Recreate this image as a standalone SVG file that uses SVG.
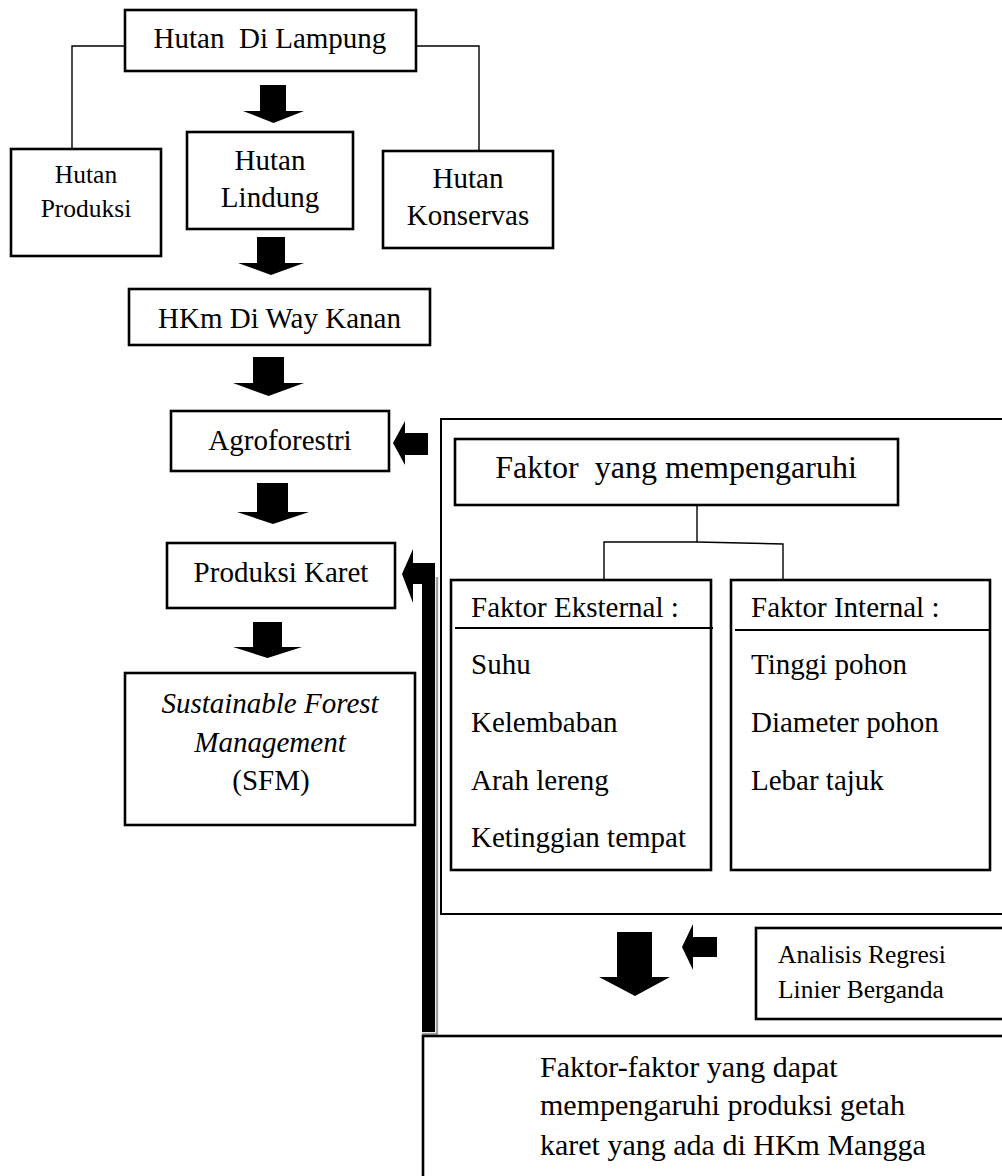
<svg xmlns="http://www.w3.org/2000/svg" width="1002" height="1176" viewBox="0 0 1002 1176">
<style>
.box{fill:#fff;stroke:#000;stroke-width:2.6}
.ln{fill:none;stroke:#000;stroke-width:1.4}
.fr{fill:none;stroke:#000;stroke-width:2}
.arr{fill:#000;stroke:none}
.t{font-family:"Liberation Serif","Times New Roman",serif;font-size:29px;fill:#000}
.m{text-anchor:middle}
.i{font-style:italic}
</style>
<rect x="0" y="0" width="1002" height="1176" fill="#fff"/>

<g id="connectors">
  <polyline class="ln" points="125,46 72,46 72,149"/>
  <polyline class="ln" points="416,46 479,46 479,151"/>
  <polyline class="ln" points="697,505 697,542"/>
  <polyline class="ln" points="604,580 604,542 697,542 783,544 783,580"/>
  <polygon class="arr" points="260,85 286,85 286,111 304,111 273.5,123 243,111 260,111"/>
  <polygon class="arr" points="257,237 285,237 285,263 304,263 271,275 238,263 257,263"/>
  <polygon class="arr" points="253,357 284,357 284,383 304,383 268.5,396 233,383 253,383"/>
  <polygon class="arr" points="257,483 288,483 288,512 309,512 273,524 237,512 257,512"/>
  <polygon class="arr" points="253,622 282,622 282,647 302,647 267.5,658 233,647 253,647"/>
  <polygon class="arr" points="428,433 405,433 405,421 393,443 405,465 405,455 428,455"/>
  <polyline points="437,577 437,1034 422,1034" fill="none" stroke="#a0a0a0" stroke-width="2.4"/>
  <polygon class="arr" points="402,574 413,549 413,563 435,563 435,1032 422,1032 422,584 413,584 413,603"/>
  <polygon class="arr" points="617,932 652,932 652,977 670,977 635,996 599,977 617,977"/>
  <polygon class="arr" points="717,937 693,937 693,924 682,947 693,970 693,957 717,957"/>
</g>

<g id="hutan-lampung">
  <rect class="box" x="125" y="10" width="291" height="61"/>
  <text class="t m" x="270" y="48" xml:space="preserve">Hutan  Di Lampung</text>
</g>
<g id="hutan-produksi">
  <rect class="box" x="11" y="149" width="150" height="107"/>
  <text class="t m" x="86" y="183" style="font-size:25.5px">Hutan</text>
  <text class="t m" x="86" y="217" style="font-size:25.5px">Produksi</text>
</g>
<g id="hutan-lindung">
  <rect class="box" x="187" y="132" width="166" height="97"/>
  <text class="t m" x="270" y="170">Hutan</text>
  <text class="t m" x="270" y="207">Lindung</text>
</g>
<g id="hutan-konservas">
  <rect class="box" x="383" y="151" width="170" height="97"/>
  <text class="t m" x="468" y="188">Hutan</text>
  <text class="t m" x="468" y="225">Konservas</text>
</g>
<g id="hkm-way-kanan">
  <rect class="box" x="129" y="289" width="301" height="56"/>
  <text class="t m" x="279.5" y="328">HKm Di Way Kanan</text>
</g>
<g id="agroforestri">
  <rect class="box" x="171" y="411" width="218" height="60"/>
  <text class="t m" x="280" y="450">Agroforestri</text>
</g>
<g id="produksi-karet">
  <rect class="box" x="167" y="543" width="228" height="65"/>
  <text class="t m" x="281" y="582">Produksi Karet</text>
</g>
<g id="sfm">
  <rect class="box" x="125" y="673" width="290" height="152"/>
  <text class="t m i" x="270" y="713">Sustainable Forest</text>
  <text class="t m i" x="270" y="752">Management</text>
  <text class="t m" x="271" y="790">(SFM)</text>
</g>

<g id="faktor-frame">
  <polyline class="fr" points="1004,419 441,419 441,914 1004,914"/>
</g>
<g id="faktor-mempengaruhi">
  <rect class="box" x="455" y="439" width="443" height="66"/>
  <text class="t m" x="676" y="478" style="font-size:32px" xml:space="preserve">Faktor  yang mempengaruhi</text>
</g>
<g id="faktor-eksternal">
  <rect class="box" x="451" y="580" width="260" height="290"/>
  <line x1="455" y1="628" x2="713" y2="628" stroke="#000" stroke-width="2.2"/>
  <text class="t" x="471" y="617">Faktor Eksternal :</text>
  <text class="t" x="471" y="674">Suhu</text>
  <text class="t" x="471" y="732">Kelembaban</text>
  <text class="t" x="471" y="790">Arah lereng</text>
  <text class="t" x="471" y="847">Ketinggian tempat</text>
</g>
<g id="faktor-internal">
  <rect class="box" x="731" y="580" width="259" height="290"/>
  <line x1="735" y1="630" x2="990" y2="630" stroke="#000" stroke-width="2.2"/>
  <text class="t" x="751" y="617">Faktor Internal :</text>
  <text class="t" x="751" y="674">Tinggi pohon</text>
  <text class="t" x="751" y="732">Diameter pohon</text>
  <text class="t" x="751" y="790">Lebar tajuk</text>
</g>
<g id="analisis-regresi">
  <rect class="box" x="756" y="928" width="260" height="91"/>
  <text class="t" x="778" y="963" style="font-size:25.5px">Analisis Regresi</text>
  <text class="t" x="778" y="998" style="font-size:25.5px">Linier Berganda</text>
</g>
<g id="hasil">
  <rect class="box" x="423" y="1036" width="600" height="160"/>
  <text class="t" x="540" y="1077" style="font-size:30px">Faktor-faktor yang dapat</text>
  <text class="t" x="540" y="1115" style="font-size:30px">mempengaruhi produksi getah</text>
  <text class="t" x="540" y="1155" style="font-size:30px">karet yang ada di HKm Mangga</text>
</g>
</svg>
